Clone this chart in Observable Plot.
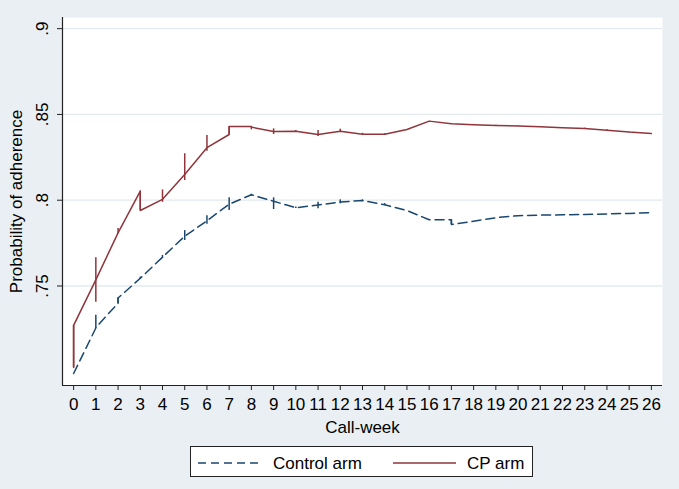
<!DOCTYPE html>
<html>
<head>
<meta charset="utf-8">
<script src="https://cdn.jsdelivr.net/npm/d3@7"></script>
<script src="https://cdn.jsdelivr.net/npm/@observablehq/plot@0.6"></script>
<style>
  html, body { margin: 0; padding: 0; background: #e9eff2; }
  #wrap { position: relative; width: 679px; height: 489px; background: #e9eff2; overflow: hidden;
          font-family: 'Liberation Sans', Arial, Helvetica, sans-serif; }
  #legend { position: absolute; left: 190px; top: 446px; width: 343px; height: 31px;
            background: #fff; border: 1px solid #222; box-sizing: border-box; }
  #legend svg { position: absolute; left: 0; top: 0; }
</style>
</head>
<body>
<div id="wrap"></div>
<script>
// ---- data ----
const weeks = [0,1,2,3,4,5,6,7,8,9,10,11,12,13,14,15,16,17,18,19,20,21,22,23,24,25,26];

// Control arm: value where the line arrives / leaves each week, and span of the vertical marker
const controlIn  = [0.6990,0.7255,0.7400,0.7545,0.7668,0.7790,0.7880,0.7977,0.8032,0.7994,0.7956,0.7972,0.7990,0.7998,0.7973,0.7940,0.7886,0.7886,0.7878,0.7898,0.7910,0.7913,0.7915,0.7917,0.7920,0.7923,0.7927];
const controlOut = [0.6990,0.7258,0.7430,0.7545,0.7668,0.7790,0.7880,0.7977,0.8032,0.7994,0.7956,0.7972,0.7990,0.7998,0.7973,0.7940,0.7886,0.7858,0.7878,0.7898,0.7910,0.7913,0.7915,0.7917,0.7920,0.7923,0.7927];
const controlLo  = [0.6990,0.7252,0.7400,0.7538,0.7660,0.7765,0.7860,0.7940,0.8025,0.7946,0.7952,0.7950,0.7979,0.7994,0.7968,0.7940,0.7886,0.7858,0.7878,0.7898,0.7910,0.7913,0.7915,0.7917,0.7920,0.7923,0.7927];
const controlHi  = [0.6990,0.7330,0.7432,0.7552,0.7678,0.7823,0.7910,0.8014,0.8035,0.8014,0.7960,0.7988,0.8002,0.8002,0.7980,0.7940,0.7886,0.7886,0.7878,0.7898,0.7910,0.7913,0.7915,0.7917,0.7920,0.7923,0.7927];

// CP arm
const cpIn  = [0.7025,0.7536,0.7810,0.8053,0.8005,0.8150,0.8306,0.8383,0.8430,0.8400,0.8402,0.8383,0.8402,0.8385,0.8385,0.8412,0.8461,0.8445,0.8440,0.8436,0.8432,0.8428,0.8422,0.8418,0.8408,0.8397,0.8389];
const cpOut = [0.7270,0.7536,0.7810,0.7940,0.8005,0.8150,0.8306,0.8430,0.8426,0.8400,0.8402,0.8383,0.8402,0.8385,0.8385,0.8412,0.8461,0.8445,0.8440,0.8436,0.8432,0.8428,0.8422,0.8418,0.8408,0.8397,0.8389];
const cpLo  = [0.7025,0.7405,0.7805,0.7940,0.7988,0.8115,0.8286,0.8383,0.8410,0.8383,0.8397,0.8371,0.8395,0.8380,0.8382,0.8410,0.8461,0.8443,0.8436,0.8434,0.8430,0.8424,0.8420,0.8413,0.8404,0.8393,0.8389];
const cpHi  = [0.7270,0.7664,0.7835,0.8053,0.8060,0.8271,0.8377,0.8430,0.8430,0.8416,0.8406,0.8406,0.8414,0.8390,0.8388,0.8412,0.8461,0.8447,0.8442,0.8437,0.8433,0.8430,0.8423,0.8420,0.8410,0.8398,0.8389];

const yTicks = [0.75, 0.8, 0.85, 0.9];
const yTickLabels = [".75", ".8", ".85", ".9"];
const seriesNames = ["Control arm", "CP arm"];
const xTitle = "Call-week";
const yTitle = "Probability of adherence";

// ---- styling ----
const navy = "#1a476f";
const maroon = "#90353b";
const gridColor = "#e3eaee";
const axisColor = "#222";
const dash = "9,5";
const xDomain = [-0.5, 26.5];
const yDomain = [0.692, 0.9065];

const path = (ins, outs) => weeks.flatMap((w, i) => [{week: w, value: ins[i]}, {week: w, value: outs[i]}]);
const spans = (lo, hi) => weeks.map((w, i) => ({week: w, lo: lo[i], hi: hi[i]}));

const chart = Plot.plot({
  width: 679,
  height: 489,
  marginLeft: 62,
  marginRight: 17,
  marginTop: 17,
  marginBottom: 104,
  style: {background: "transparent", fontFamily: "'Liberation Sans', Arial, Helvetica, sans-serif", fontSize: "17px", color: "#000", overflow: "visible"},
  x: {domain: xDomain, axis: null},
  y: {domain: yDomain, axis: null},
  marks: [
    Plot.frame({fill: "white", stroke: "none"}),
    Plot.gridY(yTicks, {stroke: gridColor, strokeOpacity: 1, strokeWidth: 1.3}),
    // axis lines
    Plot.ruleX([xDomain[0]], {stroke: axisColor, strokeWidth: 1.2}),
    Plot.ruleY([yDomain[0]], {stroke: axisColor, strokeWidth: 1.2}),
    // x axis
    Plot.axisX({ticks: weeks, tickSize: 5, tickPadding: 7, stroke: axisColor, fill: "#000", label: null, fontSize: 17}),
    Plot.text([xTitle], {text: d => d, frameAnchor: "bottom", dy: 47, fill: "#000", fontSize: 17}),
    // y axis
    Plot.axisY({ticks: yTicks, tickSize: 5, tickFormat: () => "", stroke: axisColor, label: null}),
    Plot.text(yTicks, {y: d => d, text: (d, i) => yTickLabels[i], frameAnchor: "left", dx: -19.5, rotate: -90, textAnchor: "middle", lineAnchor: "middle", fill: "#000", fontSize: 17}),
    Plot.text([yTitle], {text: d => d, frameAnchor: "left", dx: -46, rotate: -90, textAnchor: "middle", lineAnchor: "middle", fill: "#000", fontSize: 17}),
    // control arm
    Plot.ruleX(spans(controlLo, controlHi), {x: "week", y1: "lo", y2: "hi", stroke: navy, strokeWidth: 1.5}),
    Plot.line(path(controlIn, controlOut), {x: "week", y: "value", stroke: navy, strokeWidth: 1.5, strokeDasharray: dash, curve: "linear"}),
    // CP arm
    Plot.ruleX(spans(cpLo, cpHi), {x: "week", y1: "lo", y2: "hi", stroke: maroon, strokeWidth: 1.5}),
    Plot.line(path(cpIn, cpOut), {x: "week", y: "value", stroke: maroon, strokeWidth: 1.5, curve: "linear"})
  ]
});

const wrap = document.getElementById("wrap");
wrap.appendChild(chart);

// legend below the plot area
const legend = document.createElement("div");
legend.id = "legend";
legend.innerHTML = `
<svg width="343" height="31" xmlns="http://www.w3.org/2000/svg" font-family="'Liberation Sans', Arial, Helvetica, sans-serif" font-size="17">
  <line x1="7" x2="70" y1="16" y2="16" stroke="${navy}" stroke-width="1.5" stroke-dasharray="8,5"/>
  <text x="82" y="16" dy="0.35em" fill="#000">${seriesNames[0]}</text>
  <line x1="202" x2="265" y1="16" y2="16" stroke="${maroon}" stroke-width="1.5"/>
  <text x="276" y="16" dy="0.35em" fill="#000">${seriesNames[1]}</text>
</svg>`;
wrap.appendChild(legend);
</script>
</body>
</html>
